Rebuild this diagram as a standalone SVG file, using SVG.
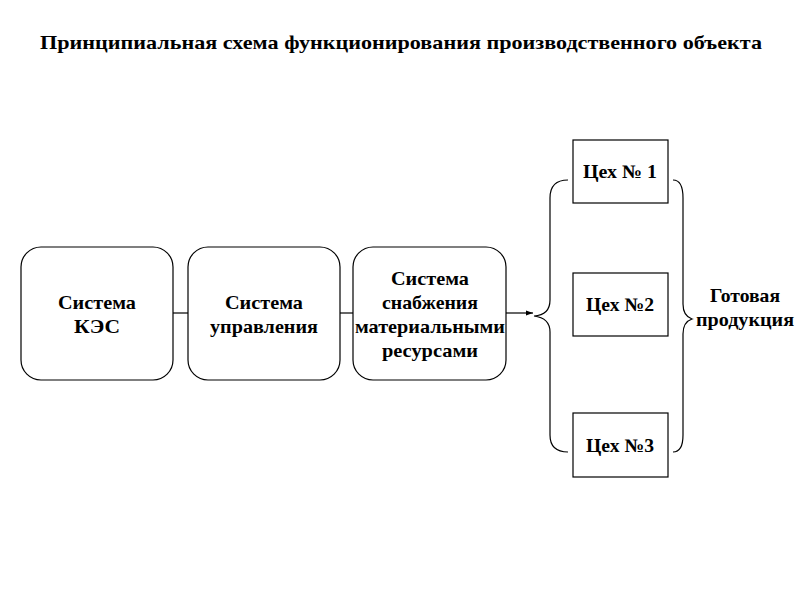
<svg xmlns="http://www.w3.org/2000/svg" width="800" height="600" viewBox="0 0 800 600" font-family="'Liberation Serif', 'Times New Roman', Times, serif">
<defs>
<style>
text{font-family:'Liberation Serif','Times New Roman',Times,serif}
.t{font-weight:bold;fill:#000;text-anchor:middle;font-size:19px}
.b{fill:#fff;stroke:#000;stroke-width:1.2}
.l{fill:none;stroke:#000;stroke-width:1.2}
</style>
<marker id="ah" markerWidth="8" markerHeight="8" refX="7" refY="4" orient="auto" markerUnits="userSpaceOnUse">
<path d="M0,1.5 L7,4 L0,6.5 Z" fill="#000"/>
</marker>
</defs>
<rect width="800" height="600" fill="#fff"/>
<text class="t" x="401" y="49" textLength="722" lengthAdjust="spacingAndGlyphs">Принципиальная схема функционирования производственного объекта</text>
<g id="connectors">
<line class="l" x1="173" y1="313" x2="188" y2="313"/>
<line class="l" x1="340" y1="313" x2="353" y2="313"/>
<line class="l" x1="506" y1="313" x2="533" y2="313" marker-end="url(#ah)"/>
<path class="l" d="M568,180 Q550,180 550,198 L550,300 Q550,315 534,316 Q550,318 550,332 L550,435 Q550,452 568,452"/>
<path class="l" d="M673,180 Q683,180 683,198 L683,304 Q683,316 692,319 Q683,322 683,334 L683,435 Q683,452 673,452"/>
</g>
<g id="kes">
<rect class="b" x="21" y="247" width="152" height="133" rx="20" ry="20"/>
<text class="t" x="97" y="309" textLength="78" lengthAdjust="spacingAndGlyphs">Система</text>
<text class="t" x="97" y="333" textLength="46" lengthAdjust="spacingAndGlyphs">КЭС</text>
</g>
<g id="upr">
<rect class="b" x="188" y="247" width="152" height="133" rx="20" ry="20"/>
<text class="t" x="264" y="309" textLength="78" lengthAdjust="spacingAndGlyphs">Система</text>
<text class="t" x="264" y="333" textLength="108" lengthAdjust="spacingAndGlyphs">управления</text>
</g>
<g id="snab">
<rect class="b" x="353" y="247" width="153" height="133" rx="20" ry="20"/>
<text class="t" x="430" y="285" textLength="78" lengthAdjust="spacingAndGlyphs">Система</text>
<text class="t" x="430" y="309" textLength="96" lengthAdjust="spacingAndGlyphs">снабжения</text>
<text class="t" x="430" y="333" textLength="150" lengthAdjust="spacingAndGlyphs">материальными</text>
<text class="t" x="430" y="357" textLength="96" lengthAdjust="spacingAndGlyphs">ресурсами</text>
</g>
<g id="ceh1">
<rect class="b" x="573" y="140" width="95" height="63"/>
<text class="t" x="620" y="178" textLength="74" lengthAdjust="spacingAndGlyphs">Цех № 1</text>
</g>
<g id="ceh2">
<rect class="b" x="573" y="273" width="95" height="63"/>
<text class="t" x="620" y="311" textLength="68" lengthAdjust="spacingAndGlyphs">Цех №2</text>
</g>
<g id="ceh3">
<rect class="b" x="573" y="413" width="95" height="64"/>
<text class="t" x="620" y="452" textLength="68" lengthAdjust="spacingAndGlyphs">Цех №3</text>
</g>
<g id="product">
<text class="t" x="745" y="302" textLength="70" lengthAdjust="spacingAndGlyphs">Готовая</text>
<text class="t" x="745" y="326" textLength="98" lengthAdjust="spacingAndGlyphs">продукция</text>
</g>
</svg>
